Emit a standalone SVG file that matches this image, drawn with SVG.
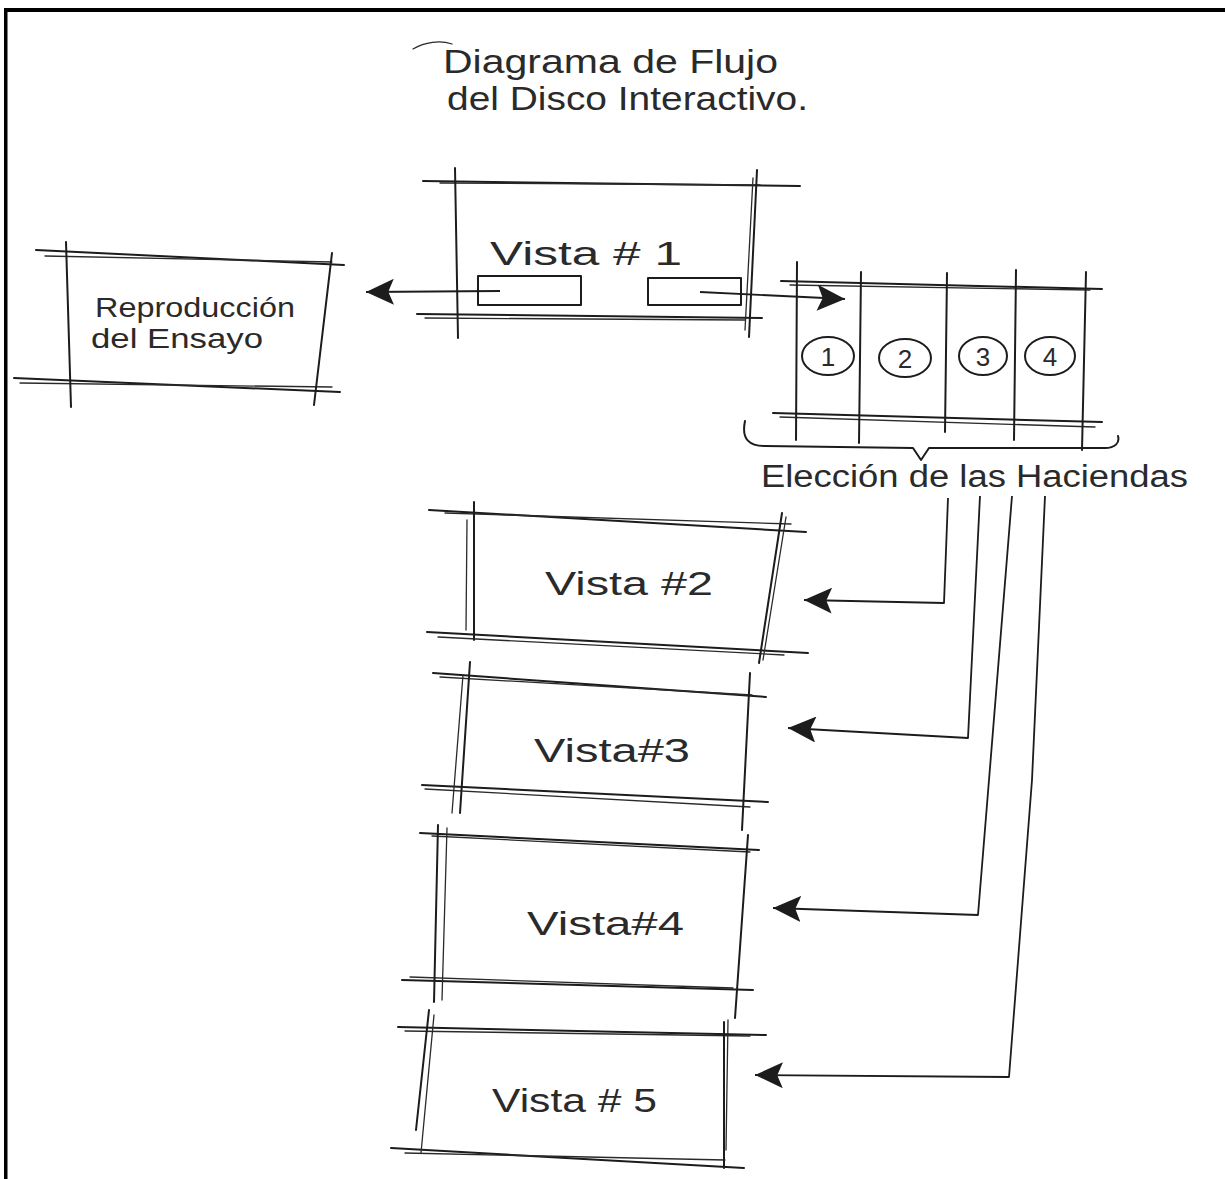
<svg xmlns="http://www.w3.org/2000/svg" width="1225" height="1179" viewBox="0 0 1225 1179">
<defs>
<style>
.ln{fill:none;stroke:#1c1c1c;stroke-width:2;stroke-linecap:round;stroke-linejoin:round}
.ln2{fill:none;stroke:#2a2a2a;stroke-width:1.3;stroke-linecap:round}
.cn{fill:none;stroke:#1c1c1c;stroke-width:1.8;stroke-linejoin:round}
.tx{font-family:"Liberation Sans",Arial,sans-serif;fill:#2a2a2a}
.num{font-family:"Liberation Sans",Arial,sans-serif;fill:#2a2a2a;font-size:26px;text-anchor:middle}
</style>
<marker id="ah" viewBox="0 0 30 28" refX="30" refY="14" markerWidth="28" markerHeight="26" markerUnits="userSpaceOnUse" orient="auto">
<path d="M0,0 L30,14 L0,28 L6,14 z" fill="#1c1c1c"/>
</marker>
</defs>
<rect width="1225" height="1179" fill="#ffffff"/>
<g id="frame">
<rect x="4" y="8" width="1221" height="4" fill="#000"/>
<rect x="4" y="8" width="3.5" height="1171" fill="#000"/>
</g>
<g id="title">
<path class="ln2" d="M413,49 C425,42 440,40 452,44"/>
<text class="tx" x="443" y="73" font-size="34" textLength="335" lengthAdjust="spacingAndGlyphs">Diagrama de Flujo</text>
<text class="tx" x="447" y="110" font-size="34" textLength="361" lengthAdjust="spacingAndGlyphs">del Disco Interactivo.</text>
</g>
<g id="vista1">
<path class="ln" d="M423,181 L800,186"/>
<path class="ln2" d="M440,183 L760,185"/>
<path class="ln" d="M417,314 L762,318"/>
<path class="ln2" d="M425,318 L745,320"/>
<path class="ln" d="M455,168 L458,338"/>
<path class="ln" d="M757,170 L749,337"/>
<path class="ln2" d="M753,178 L745,330"/>
<rect class="ln" x="478" y="276" width="103" height="29"/>
<rect class="ln" x="648" y="278" width="93" height="27"/>
<text class="tx" x="490" y="265" font-size="33" textLength="192" lengthAdjust="spacingAndGlyphs">Vista # 1</text>
</g>
<g id="reproduccion">
<path class="ln" d="M36,250 L344,265"/>
<path class="ln2" d="M45,256 L332,262"/>
<path class="ln" d="M14,378 L340,392"/>
<path class="ln2" d="M20,383 L332,387"/>
<path class="ln" d="M66,242 L71,407"/>
<path class="ln" d="M332,253 L314,405"/>
<text class="tx" x="95" y="317" font-size="28" textLength="200" lengthAdjust="spacingAndGlyphs">Reproducción</text>
<text class="tx" x="91" y="348" font-size="28" textLength="172" lengthAdjust="spacingAndGlyphs">del Ensayo</text>
</g>
<g id="haciendas">
<path class="ln" d="M781,281 L1102,289"/>
<path class="ln2" d="M790,285 L1090,290"/>
<path class="ln" d="M773,413 L1102,422"/>
<path class="ln2" d="M780,417 L1095,427"/>
<path class="ln" d="M797,262 L796,440"/>
<path class="ln" d="M861,272 L859,443"/>
<path class="ln" d="M947,273 L945,432"/>
<path class="ln" d="M1016,270 L1014,440"/>
<path class="ln" d="M1086,272 L1082,450"/>
<ellipse class="ln" cx="828" cy="356" rx="26" ry="19"/>
<ellipse class="ln" cx="905" cy="358" rx="26" ry="19"/>
<ellipse class="ln" cx="983" cy="356" rx="24" ry="19"/>
<ellipse class="ln" cx="1050" cy="356" rx="25" ry="19"/>
<text class="num" x="828" y="366">1</text>
<text class="num" x="905" y="368">2</text>
<text class="num" x="983" y="366">3</text>
<text class="num" x="1050" y="366">4</text>
</g>
<g id="eleccion">
<path class="ln" d="M745,421 C741,440 750,446 765,446 L913,448 L921,460 L929,448 L1105,448 C1115,448 1120,443 1118,436"/>
<text class="tx" x="761" y="487" font-size="31" textLength="427" lengthAdjust="spacingAndGlyphs">Elección de las Haciendas</text>
</g>
<g id="vista2">
<path class="ln" d="M429,510 L806,532"/>
<path class="ln2" d="M445,513 L791,524"/>
<path class="ln" d="M427,632 L808,653"/>
<path class="ln2" d="M438,637 L784,655"/>
<path class="ln" d="M474,502 L474,640"/>
<path class="ln2" d="M467,520 L466,630"/>
<path class="ln" d="M782,513 L759,663"/>
<path class="ln2" d="M786,517 L763,660"/>
<text class="tx" x="545" y="595" font-size="34" textLength="168" lengthAdjust="spacingAndGlyphs">Vista #2</text>
</g>
<g id="vista3">
<path class="ln" d="M433,673 L766,697"/>
<path class="ln2" d="M440,677 L752,695"/>
<path class="ln" d="M422,785 L768,802"/>
<path class="ln2" d="M425,789 L750,807"/>
<path class="ln" d="M470,662 L460,813"/>
<path class="ln2" d="M463,675 L452,813"/>
<path class="ln" d="M750,673 L742,830"/>
<text class="tx" x="534" y="762" font-size="34" textLength="156" lengthAdjust="spacingAndGlyphs">Vista#3</text>
</g>
<g id="vista4">
<path class="ln" d="M420,833 L759,850"/>
<path class="ln2" d="M432,836 L750,852"/>
<path class="ln" d="M402,980 L753,990"/>
<path class="ln2" d="M410,977 L733,988"/>
<path class="ln" d="M438,825 L434,1002"/>
<path class="ln2" d="M447,828 L442,1000"/>
<path class="ln" d="M748,835 L735,1018"/>
<text class="tx" x="527" y="935" font-size="34" textLength="157" lengthAdjust="spacingAndGlyphs">Vista#4</text>
</g>
<g id="vista5">
<path class="ln" d="M398,1027 L766,1035"/>
<path class="ln2" d="M405,1031 L750,1036"/>
<path class="ln" d="M391,1148 L744,1168"/>
<path class="ln2" d="M405,1153 L725,1160"/>
<path class="ln" d="M429,1010 L416,1130"/>
<path class="ln2" d="M434,1015 L421,1153"/>
<path class="ln" d="M724,1022 L724,1168"/>
<path class="ln2" d="M728,1020 L726,1150"/>
<text class="tx" x="492" y="1112" font-size="34" textLength="165" lengthAdjust="spacingAndGlyphs">Vista # 5</text>
</g>
<g id="connectors">
<path class="cn" d="M500,291 L366,292" marker-end="url(#ah)"/>
<path class="cn" d="M700,292 L845,299" marker-end="url(#ah)"/>
<path class="cn" d="M948,498 L944,603 L804,600" marker-end="url(#ah)"/>
<path class="cn" d="M980,496 L968,738 L788,728" marker-end="url(#ah)"/>
<path class="cn" d="M1012,496 L989,780 L978,915 L773,908" marker-end="url(#ah)"/>
<path class="cn" d="M1045,496 L1032,780 L1009,1077 L755,1075" marker-end="url(#ah)"/>
</g>
</svg>
